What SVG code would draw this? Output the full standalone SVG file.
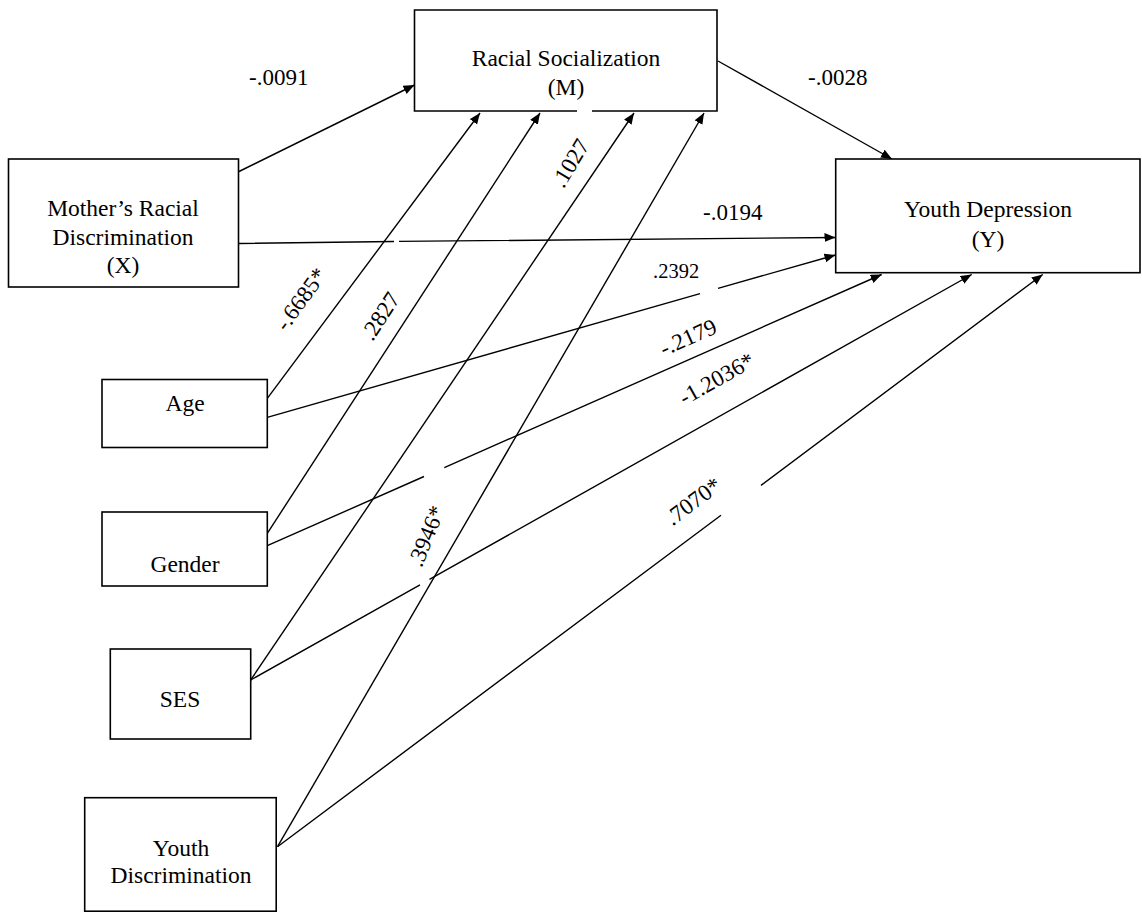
<svg xmlns="http://www.w3.org/2000/svg" width="1142" height="913" viewBox="0 0 1142 913">
<style>
.box{fill:#fff;stroke:#000;stroke-width:1.6}
.nt{font-family:"Liberation Serif","Times New Roman",serif;font-size:23.5px;fill:#000;text-anchor:middle}
.lb{font-family:"Liberation Serif","Times New Roman",serif;font-size:23px;fill:#000}
.ln{fill:none;stroke:#000;stroke-width:1.4;marker-end:url(#ah)}
</style>
<defs>
<marker id="ah" markerUnits="userSpaceOnUse" markerWidth="12" markerHeight="10" refX="11" refY="4.5" orient="auto">
<path d="M0,0 L11,4.5 L0,9 z" fill="#000"/>
</marker>
</defs>
<rect width="1142" height="913" fill="#fff"/>

<g id="connectors">
<path class="ln" d="M239,171.5 L414.5,85"/>
<path class="ln" d="M239,243.5 L394,241.5 M399,241.4 L835.5,237.5"/>
<path class="ln" d="M718,61 L892,159"/>
<path class="ln" d="M267.3,398.3 L480,113"/>
<path class="ln" d="M267.3,417.3 L700,293.6 M718,288.4 L835.5,255"/>
<path class="ln" d="M267.3,533.3 L540,113"/>
<path class="ln" d="M267.3,545.7 L424,476.5 M444.3,467.6 L881.7,274.5"/>
<path class="ln" d="M250.7,680 L634,113"/>
<path class="ln" d="M250.7,680 L420,584.8 M429.5,579.4 L971.7,274.5"/>
<path class="ln" d="M277.5,846.7 L704,113"/>
<path class="ln" d="M277.5,846.7 L721,515.3 M761,485.4 L1042.7,274.5"/>
</g>

<g id="node-M">
<rect x="414.5" y="10" width="302.5" height="101" fill="#fff" stroke="none"/>
<path d="M577,111 L414.5,111 L414.5,10 L717,10 L717,111 L592,111" fill="none" stroke="#000" stroke-width="1.6"/>
<text class="nt" x="566" y="66">Racial Socialization</text>
<text class="nt" x="566" y="95">(M)</text>
</g>

<g id="node-X">
<rect class="box" x="8.5" y="159" width="230" height="128"/>
<text class="nt" x="123" y="216">Mother’s Racial</text>
<text class="nt" x="123" y="245">Discrimination</text>
<text class="nt" x="123" y="273">(X)</text>
</g>

<g id="node-Y">
<rect class="box" x="835.7" y="159" width="304.3" height="113.7"/>
<text class="nt" x="988" y="217">Youth Depression</text>
<text class="nt" x="988" y="247">(Y)</text>
</g>

<g id="node-age">
<rect class="box" x="102" y="379.5" width="165.3" height="68"/>
<text class="nt" x="185" y="410.7">Age</text>
</g>

<g id="node-gender">
<rect class="box" x="102" y="512" width="165.3" height="74"/>
<text class="nt" x="185" y="571.7">Gender</text>
</g>

<g id="node-ses">
<rect class="box" x="110.3" y="649" width="140.4" height="90"/>
<text class="nt" x="180" y="707">SES</text>
</g>

<g id="node-youthdisc">
<rect class="box" x="84.7" y="797.7" width="191.5" height="113.5"/>
<text class="nt" x="181" y="855.7">Youth</text>
<text class="nt" x="181" y="883">Discrimination</text>
</g>

<g id="labels">
<text class="lb" x="249" y="85">-.0091</text>
<text class="lb" x="808" y="85">-.0028</text>
<text class="lb" x="703" y="220">-.0194</text>
<text class="lb" x="653" y="278" style="font-size:20.5px">.2392</text>
<text class="lb" text-anchor="middle" transform="translate(300.5,299) rotate(-54)" y="8">-.6685*</text>
<text class="lb" text-anchor="middle" transform="translate(380,316) rotate(-57)" y="8">.2827</text>
<text class="lb" text-anchor="middle" transform="translate(570,163) rotate(-59)" y="8">.1027</text>
<text class="lb" text-anchor="middle" transform="translate(426,536) rotate(-68)" y="8">.3946*</text>
<text class="lb" text-anchor="middle" transform="translate(688,337) rotate(-24)" y="8">-.2179</text>
<text class="lb" text-anchor="middle" transform="translate(716.5,378.5) rotate(-29.5)" y="8">-1.2036*</text>
<text class="lb" text-anchor="middle" transform="translate(693,501) rotate(-37)" y="8">.7070*</text>
</g>
</svg>
